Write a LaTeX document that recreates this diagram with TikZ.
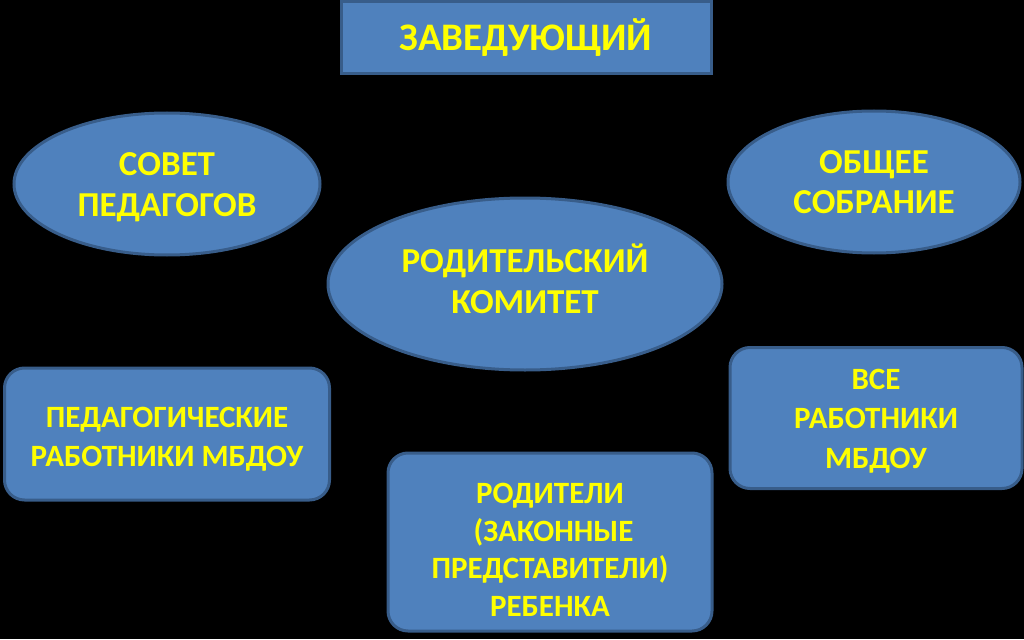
\documentclass[tikz,border=0pt]{standalone}
\usepackage{fontspec}
\setmainfont{Carlito}
\usepackage{tikz}
\usetikzlibrary{shapes.geometric}
\definecolor{boxblue}{HTML}{4F81BD}
\definecolor{edgeblue}{HTML}{385D8A}
\definecolor{labelyellow}{HTML}{FFFF00}
\tikzset{
    unit/.style={draw=edgeblue,fill=boxblue,line width=3pt,inner sep=0pt},
    headbox/.style={unit,rectangle,minimum width=370pt,minimum height=72pt},
    council/.style={unit,ellipse},
    staffbox/.style={unit,rectangle,rounded corners=20pt},
    caption/.style={text=labelyellow,align=center,inner sep=0pt},
    huge/.style={caption,font=\bfseries\fontsize{39}{46}\selectfont},
    big/.style={caption,font=\bfseries\fontsize{35}{40.5}\selectfont},
    mid/.style={caption,font=\bfseries\fontsize{31}{39.5}\selectfont},
    small/.style={caption,font=\bfseries\fontsize{31}{37.5}\selectfont},
}
\begin{document}
\begin{tikzpicture}[x=1pt,y=-1pt]
\fill[black] (0,0) rectangle (1024,639);
\useasboundingbox (0,0) rectangle (1024,639);
\node[headbox, label={[huge]center:ЗАВЕДУЮЩИЙ}] (head) at (526,38) {};
\node[council, minimum width=306pt, minimum height=142pt,
    label={[big, yshift=-3pt]center:{СОВЕТ\\ПЕДАГОГОВ}}] (sovet) at (167,184) {};
\node[council, minimum width=292pt, minimum height=142pt,
    label={[big]center:{ОБЩЕЕ\\СОБРАНИЕ}}] (obsch) at (874,182) {};
\node[council, minimum width=394pt, minimum height=172pt,
    label={[big, yshift=5pt]center:{РОДИТЕЛЬСКИЙ\\КОМИТЕТ}}] (komitet) at (525,284) {};
\node[staffbox, minimum width=325pt, minimum height=132pt,
    label={[mid, yshift=-5pt]center:{ПЕДАГОГИЧЕСКИЕ\\РАБОТНИКИ МБДОУ}}] (pedrab) at (167,434) {};
\node[staffbox, minimum width=292pt, minimum height=141pt,
    label={[mid, yshift=-3pt]center:{ВСЕ\\РАБОТНИКИ\\МБДОУ}}] (vse) at (876,418) {};
\node[staffbox, minimum width=324pt, minimum height=178pt,
    label={[small, yshift=-8pt]center:{РОДИТЕЛИ\\~(ЗАКОННЫЕ\\ПРЕДСТАВИТЕЛИ)\\РЕБЕНКА}}] (roditeli) at (550,542) {};
\end{tikzpicture}
\end{document}
